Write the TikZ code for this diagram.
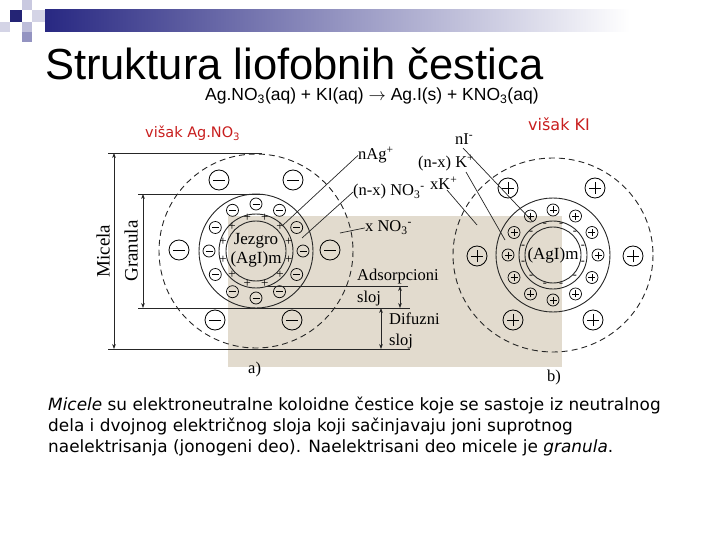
\documentclass[tikz,border=0pt]{standalone}
\usepackage{fontspec}
\setmainfont{Liberation Serif}
\newfontfamily\arial{Liberation Sans}
\newfontfamily\dejavu{DejaVu Sans}
\usetikzlibrary{arrows.meta,calc}
\definecolor{bg}{RGB}{226,219,206}
\definecolor{vred}{RGB}{200,30,30}
\definecolor{navy}{RGB}{40,40,130}
\tikzset{
 ln/.style={line width=0.9pt,black!85},
 dsh/.style={ln,dash pattern=on 6pt off 4pt},
 bigm/.style={circle,draw,line width=0.8pt,minimum size=20pt,inner sep=0pt,
   path picture={\draw[line width=0.8pt] ([xshift=-6pt]path picture bounding box.center)--([xshift=6pt]path picture bounding box.center);}},
 bigp/.style={bigm,path picture={\draw[line width=0.8pt] ([xshift=-6pt]path picture bounding box.center)--([xshift=6pt]path picture bounding box.center) ([yshift=-6pt]path picture bounding box.center)--([yshift=6pt]path picture bounding box.center);}},
 smm/.style={circle,draw,line width=0.7pt,minimum size=12pt,inner sep=0pt,
   path picture={\draw[line width=0.7pt] ([xshift=-3.5pt]path picture bounding box.center)--([xshift=3.5pt]path picture bounding box.center);}},
 smp/.style={smm,path picture={\draw[line width=0.7pt] ([xshift=-3.5pt]path picture bounding box.center)--([xshift=3.5pt]path picture bounding box.center) ([yshift=-3.5pt]path picture bounding box.center)--([yshift=3.5pt]path picture bounding box.center);}},
 lab/.style={font=\fontsize{16.5}{18}\selectfont,inner sep=0pt,anchor=base west},
 arr/.style={ln,{Stealth[length=5pt]}-{Stealth[length=5pt]}},
}
\begin{document}
\begin{tikzpicture}[x=1pt,y=-1pt]
\useasboundingbox (0,0) rectangle (720,540);
% decorations
\shade[left color=navy,right color=white] (45,10) rectangle (630,32);
\fill[navy!90!black] (10,10) rectangle (22,22);
\fill[navy!25] (22,0) rectangle (32,10);
\fill[navy!20] (32,10) rectangle (45,22);
\fill[navy!20] (0,22) rectangle (10,32);
\fill[navy!30] (22,22) rectangle (32,32);
\fill[navy!50] (22,32) rectangle (32,42);
% titles
\node[inner sep=0pt,anchor=base west,font=\arial\fontsize{43.5}{45}\selectfont] (title) at (45,80) {Struktura liofobnih čestica};
\node[inner sep=0pt,anchor=base west,font=\arial\fontsize{17.5}{19}\selectfont] (eq) at (205,101) {Ag.NO\textsubscript{3}(aq) + KI(aq) $\rightarrow$ Ag.I(s) + KNO\textsubscript{3}(aq)};
\node[inner sep=0pt,anchor=base west,font=\dejavu\fontsize{14.5}{16}\selectfont,text=vred] (va) at (145,138) {višak Ag.NO\textsubscript{3}};
\node[inner sep=0pt,anchor=base west,font=\dejavu\fontsize{16}{18}\selectfont,text=vred] (vk) at (528,131) {višak KI};
% background
\fill[bg] (228,216) rectangle (562,367);
% ---- left micelle
\coordinate (A) at (256,251);
\draw[dsh] (A) circle (97);
\draw[ln] (A) circle (57);
\draw[ln] (A) circle (37);
\draw[ln] (A) circle (30);
\foreach \a in {0,30,...,330} \node[smm] at ($(A)+(\a:47)$) {};
\foreach \a in {15,45,...,345} \node[inner sep=0pt,font=\fontsize{13}{13}\selectfont] at ($(A)+(\a:34)$) {+};
\node[bigm] at (219,180) {};
\node[bigm] at (293,180) {};
\node[bigm] at (179,250) {};
\node[bigm] at (330,250) {};
\node[bigm] at (215,320) {};
\node[bigm] at (292,320) {};
\node[inner sep=0pt,font=\fontsize{17}{19}\selectfont,align=center] (jz) at (256,250) {Jezgro\\(AgI)m};
% dims
\draw[ln] (108,153) -- (262,153);
\draw[ln] (108,349) -- (410,349);
\draw[ln] (138,194) -- (262,194);
\draw[ln] (138,308) -- (410,308);
\draw[ln] (267,286) -- (408,286);
\coordinate (m1) at (114,153); \coordinate (m2) at (114,349);
\coordinate (g1) at (143,194); \coordinate (g2) at (143,308);
\coordinate (s1) at (400,286); \coordinate (s2) at (400,308);
\coordinate (d1) at (381,308); \coordinate (d2) at (381,349);
\draw[arr] (m1) -- (m2);
\draw[arr] (g1) -- (g2);
\draw[arr] (s1) -- (s2);
\draw[arr] (d1) -- (d2);
\node[rotate=90,font=\fontsize{19}{21}\selectfont] (mic) at (103,251) {Micela};
\node[rotate=90,font=\fontsize{19}{21}\selectfont] (gra) at (131,251) {Granula};
\node[lab] (ads) at (357,280) {Adsorpcioni};
\node[lab] (sl1) at (357,302) {sloj};
\node[lab] (dif) at (389,324) {Difuzni};
\node[lab] (sl2) at (389,345) {sloj};
\node[lab] (la) at (248,373) {a)};
\node[lab] (nag) at (358,160) {nAg\textsuperscript{+}};
\node[lab] (nno) at (353,196) {(n-x) NO\textsubscript{3}\textsuperscript{-}};
\node[lab] (xno) at (365,232) {x NO\textsubscript{3}\textsuperscript{-}};
\coordinate (p1) at (282,226); \coordinate (p2) at (302,238); \coordinate (p3) at (340,233);
\draw[ln,line width=0.7pt] (p1) -- (nag.west);
\draw[ln,line width=0.7pt] (p2) -- (nno.west);
\draw[ln,line width=0.7pt] (p3) -- (xno.west);
% ---- right micelle
\coordinate (B) at (553,255);
\draw[dsh] (B) ellipse (100 and 97);
\draw[ln] (B) circle (57);
\draw[ln] (B) circle (34);
\draw[ln] (B) circle (28);
\foreach \a in {0,30,...,330} \node[smp] at ($(B)+(\a:45)$) {};
\foreach \a in {15,45,...,345} \node[inner sep=0pt,font=\fontsize{12}{12}\selectfont] at ($(B)+(\a:31)$) {-};
\node[bigp] at (508,188) {};
\node[bigp] at (595,188) {};
\node[bigp] at (477,256) {};
\node[bigp] at (633,256) {};
\node[bigp] at (513,320) {};
\node[bigp] at (593,320) {};
\node[inner sep=0pt,font=\fontsize{17}{19}\selectfont] (agi) at (B) {(AgI)m};
\node[lab] (ni) at (455,145) {nI\textsuperscript{-}};
\node[lab] (nk) at (418,168) {(n-x) K\textsuperscript{+}};
\node[lab] (xk) at (430,190) {xK\textsuperscript{+}};
\coordinate (q1) at (533,222); \coordinate (q2) at (505,240); \coordinate (q3) at (477,225);
\draw[ln,line width=0.7pt] (463,148) -- (q1);
\draw[ln,line width=0.7pt] (466,172) -- (q2);
\draw[ln,line width=0.7pt] (447,190) -- (q3);
\node[lab] (lb) at (547,381) {b)};
% caption
\node[inner sep=0pt,anchor=north west,align=left,font=\dejavu\fontsize{16.9}{21}\selectfont] (cap) at (48,397)
{\textit{Micele} su elektroneutralne koloidne čestice koje se sastoje iz neutralnog\\
dela i dvojnog električnog sloja koji sačinjavaju joni suprotnog\\
naelektrisanja (jonogeni deo). Naelektrisani deo micele je \textit{granula}.};
\end{tikzpicture}
\end{document}
